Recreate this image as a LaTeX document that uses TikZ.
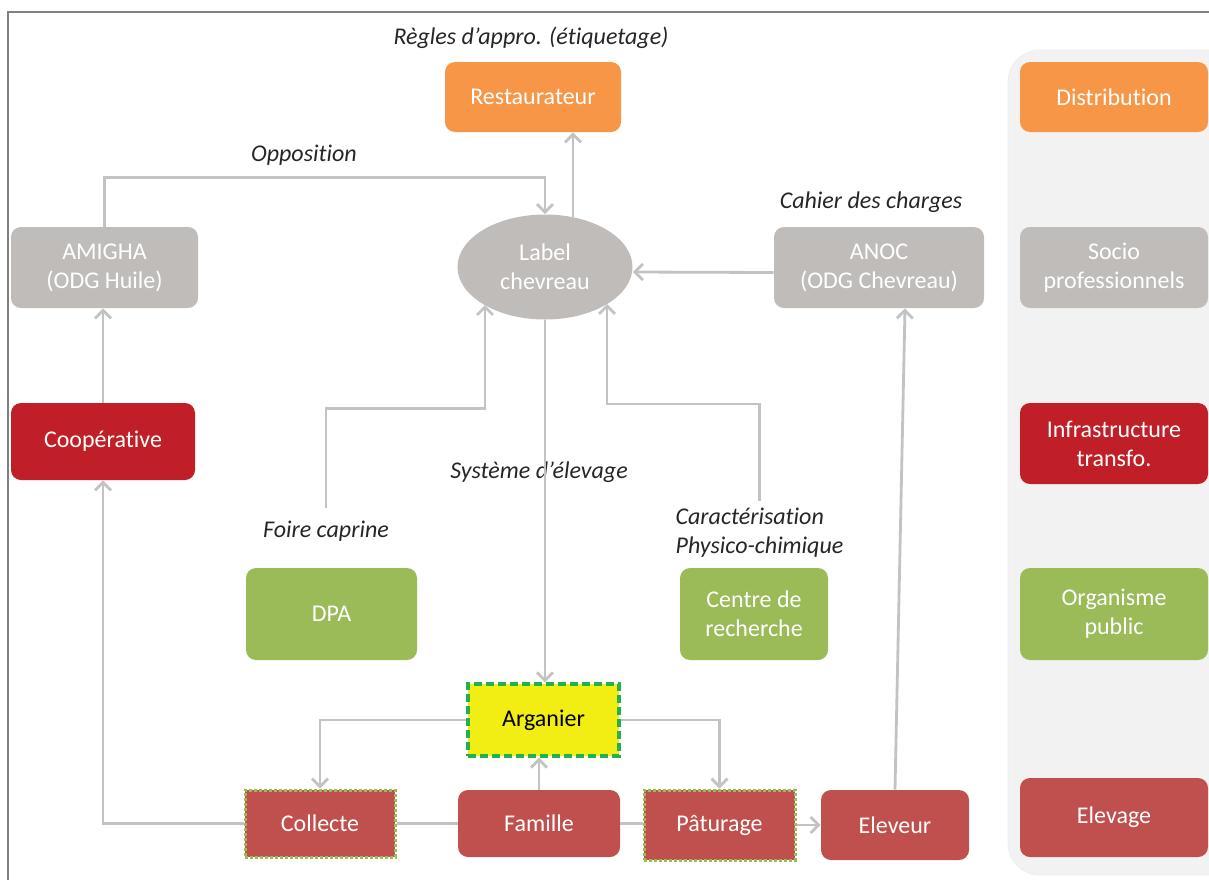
\documentclass[tikz,border=0pt]{standalone}
\usepackage{fontspec}
\setmainfont{Carlito}[Ligatures=NoCommon]
\usetikzlibrary{shapes.geometric, arrows.meta, positioning, calc}
\definecolor{distrib}{HTML}{F79646}
\definecolor{socio}{HTML}{C0BCBA}
\definecolor{transfo}{HTML}{C01F27}
\definecolor{public}{HTML}{9BBB59}
\definecolor{elevage}{HTML}{C0504D}
\definecolor{argan}{HTML}{F2EE13}
\definecolor{arganline}{HTML}{22B14C}
\definecolor{lienclr}{HTML}{C3C3C3}

\begin{document}
\begin{tikzpicture}[x=0.5pt, y=-0.5pt,
  cbox/.style={rounded corners=5pt, text=white, align=center, inner sep=2pt, font=\fontsize{12}{14.5}\selectfont},
  legbox/.style={cbox, minimum width=94pt},
  note/.style={font=\fontsize{12}{14.5}\selectfont\itshape, text=black!85, inner sep=1pt},
  lien/.style={draw=lienclr, line width=1.4pt, -{Straight Barb[length=4pt, width=8pt]}},
  trait/.style={draw=lienclr, line width=1.4pt},
  pointille/.style={draw=public, line width=1.5pt, dash pattern=on 1.3pt off 1.2pt, rounded corners=0pt}
]
  \useasboundingbox (0,0) rectangle (1209,879);
  \clip (0,0) rectangle (1209,879);
  \draw[black!50, line width=1pt] (8,890) -- (8,12) -- (1220,12);
  \draw[fill=black!5, draw=black!7, rounded corners=16pt] (1008,50) rectangle (1240,875);

  \node[legbox, fill=distrib, minimum height=35pt] (ldistrib) at (1114,97) {Distribution};
  \node[legbox, fill=socio, minimum height=40.5pt] (lsocio) at (1114,267.5) {Socio\\professionnels};
  \node[legbox, fill=transfo, minimum height=40.5pt] (ltransfo) at (1114,443.5) {Infrastructure\\transfo.};
  \node[legbox, fill=public, minimum height=46pt] (lpublic) at (1114,614) {Organisme\\public};
  \node[legbox, fill=elevage, minimum height=39.5pt] (lelevage) at (1114,817.5) {Elevage};

  \node[cbox, fill=distrib, minimum width=88pt, minimum height=35pt] (restaurateur) at (533,97) {Restaurateur};
  \node[cbox, fill=socio, minimum width=93.5pt, minimum height=40.5pt] (amigha) at (104.5,267.5) {AMIGHA\\(ODG Huile)};
  \node[cbox, ellipse, fill=socio, minimum width=87.5pt, minimum height=52.5pt, inner sep=0pt] (label) at (545,267) {Label\\chevreau};
  \node[cbox, fill=socio, minimum width=105pt, minimum height=40.5pt] (anoc) at (879,267.5) {ANOC\\(ODG Chevreau)};
  \node[cbox, fill=transfo, minimum width=92pt, minimum height=38.5pt] (coop) at (103,441.5) {Coopérative};
  \node[cbox, fill=public, minimum width=85.5pt, minimum height=46pt] (dpa) at (331.5,614) {DPA};
  \node[cbox, fill=public, minimum width=74pt, minimum height=46pt] (centre) at (754,614) {Centre de\\recherche};
  \node[cbox, rounded corners=0pt, fill=argan, text=black, draw=arganline, line width=1.7pt, dash pattern=on 4pt off 2pt, minimum width=75.5pt, minimum height=36pt] (arganier) at (543.5,720) {Arganier};
  \node[cbox, fill=elevage, pointille, minimum width=75pt, minimum height=33.5pt] (collecte) at (320,823.5) {Collecte};
  \node[cbox, fill=elevage, minimum width=81pt, minimum height=33.5pt] (famille) at (539,823.5) {Famille};
  \node[cbox, fill=elevage, pointille, minimum width=75.5pt, minimum height=35pt] (paturage) at (719.5,825) {Pâturage};
  \node[cbox, fill=elevage, minimum width=74pt, minimum height=35pt] (eleveur) at (895,825) {Eleveur};

  \node[note] (regles) at (531,38) {Règles d’appro. (étiquetage)};
  \node[note] (opposition) at (304,155) {Opposition};
  \node[note] (cahier) at (871,202) {Cahier des charges};
  \node[note] (systeme) at (539,472) {Système d’élevage};
  \node[note] (foire) at (326,531) {Foire caprine};
  \node[note, align=left] (carac) at (759.5,533) {Caractérisation\\Physico-chimique};

  \draw[lien] (amigha.north) -- ++(0,-49) -| (label.north);
  \draw[lien] ($(label.center)+(28,-50)$) -- ($(restaurateur.south)+(40,0)$);
  \draw[lien] ($(anoc.west)+(0,5)$) -- ($(label.east)+(0,5)$);
  \draw[lien] ($(foire.north)+(0,-10)$) -- ++(0,-100) -| ($(label.center)+(-60,38)$);
  \draw[lien] ($(carac.north)+(0,-5)$) -- ++(0,-97) -| ($(label.center)+(62,37)$);
  \draw[lien] (label.south) -- (label.south |- arganier.north);
  \draw[lien] (arganier.west) -| (collecte.north);
  \draw[lien] (arganier.east) -| (paturage.north);
  \draw[lien] (famille.north) -- (famille.north |- arganier.south);
  \draw[lien] (collecte.west) -| (coop.south);
  \draw[lien] (coop.north) -- (coop.north |- amigha.south);
  \draw[trait] (collecte.east) -- (famille.west);
  \draw[trait] (famille.east) -- (famille.east -| paturage.west);
  \draw[lien] (paturage.east) -- (paturage.east -| eleveur.west);
  \draw[lien] (eleveur.north) -- ($(anoc.south)+(26,0)$);
\end{tikzpicture}
\end{document}
